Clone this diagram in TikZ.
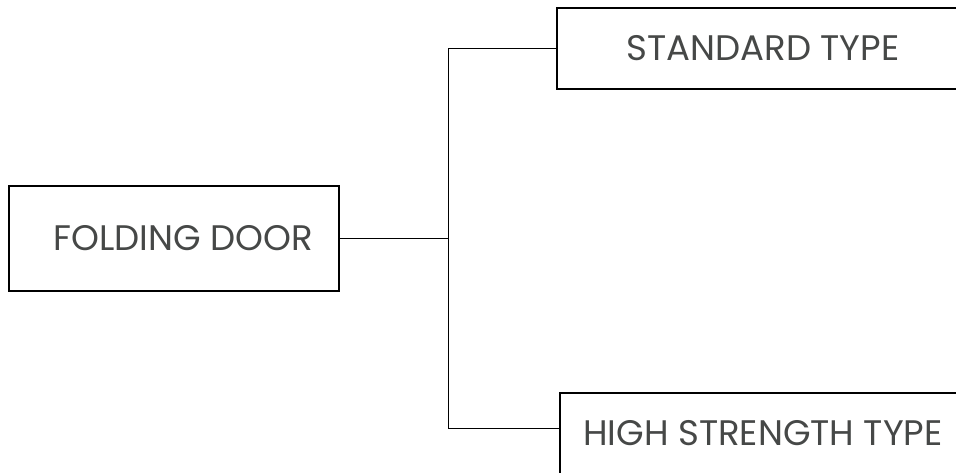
\documentclass[tikz,border=0pt]{standalone}
\usepackage{fontspec}
\setmainfont{Poppins}
\definecolor{txt}{HTML}{464847}
\begin{document}
\begin{tikzpicture}[x=1pt,y=-1pt,
  box/.style={draw=black,line width=1.5pt,rectangle,inner sep=0pt},
  lbl/.style={text=txt,font=\fontsize{35.5}{40}\selectfont,inner sep=0pt,anchor=center},
  conn/.style={draw=black,line width=0.9pt}]
\useasboundingbox (0,0) rectangle (956,473);
\clip (0,0) rectangle (956,473);
\node[box,minimum width=330,minimum height=105] (fd) at (174,238.5) {};
\node[lbl] (fdt) at (183,238) {FOLDING DOOR};
\node[box,minimum width=412,minimum height=81] (st) at (763,48.5) {};
\node[lbl] (stt) at (763,48.5) {STANDARD TYPE};
\node[box,minimum width=406,minimum height=82] (hs) at (763,434) {};
\node[lbl] (hst) at (763,433.5) {HIGH STRENGTH TYPE};
\coordinate (j) at (448,238.5);
\coordinate (jt) at (448,48.5);
\coordinate (jb) at (448,428.5);
\draw[conn] (fd.east) -- (j);
\draw[conn] (jt) -- (jb);
\draw[conn] (jt) -- (st.west);
\draw[conn] (jb) -- (hs.west |- jb);
\end{tikzpicture}
\end{document}
